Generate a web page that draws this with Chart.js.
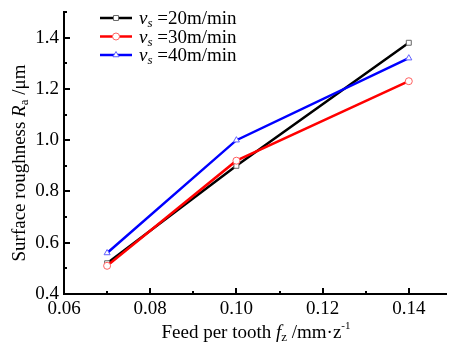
<!DOCTYPE html>
<html>
<head>
<meta charset="utf-8">
<script src="https://cdn.jsdelivr.net/npm/chart.js@4/dist/chart.umd.min.js"></script>
<style>
html,body{margin:0;padding:0;background:#fff;}
#wrap{width:451px;height:344px;}
</style>
</head>
<body>
<div id="wrap"><canvas id="c" width="451" height="344"></canvas></div>
<script>
// ---- data ----
const feed = [0.07, 0.10, 0.14];
const ra20 = [0.52, 0.90, 1.38];
const ra30 = [0.51, 0.92, 1.23];
const ra40 = [0.56, 1.00, 1.32];
const speedLabels = ['=20m/min', '=30m/min', '=40m/min'];
const xTickLabels = ['0.06', '0.08', '0.10', '0.12', '0.14'];
const xTickValues = [0.06, 0.07, 0.08, 0.09, 0.10, 0.11, 0.12, 0.13, 0.14];
const yTickLabels = ['0.4', '0.6', '0.8', '1.0', '1.2', '1.4'];

const FONT = "'Liberation Serif', 'Times New Roman', serif";
const FS = 19;
const lineColors = ['#000000', '#ff0000', '#0000ff'];
const markerColors = ['#666666', '#ff6060', '#6060ff'];
const markerStyles = ['rect', 'circle', 'triangle'];
const seriesData = [ra20, ra30, ra40];

function pts(ys){ return feed.map((x,i)=>({x:x, y:ys[i]})); }

function richWidth(ctx, segs){
  let w = 0;
  segs.forEach(s=>{ ctx.font = (s.italic?'italic ':'') + s.size + 'px ' + FONT; w += ctx.measureText(s.text).width; });
  return w;
}
function richDraw(ctx, segs, x, y){
  let cx = x;
  segs.forEach(s=>{
    ctx.font = (s.italic?'italic ':'') + s.size + 'px ' + FONT;
    ctx.fillText(s.text, cx, y + (s.dy||0));
    cx += ctx.measureText(s.text).width;
  });
}

const decorPlugin = {
  id: 'decor',
  afterDraw(chart){
    const ctx = chart.ctx;
    const xs = chart.scales.x, ys = chart.scales.y;
    const a = chart.chartArea;
    ctx.save();
    ctx.strokeStyle = '#000';
    ctx.lineWidth = 2;
    xs.ticks.forEach(t=>{
      const px = Math.round(xs.getPixelForValue(t.value));
      const major = xTickLabels.includes(t.value.toFixed(2));
      const len = major ? 6 : 3;
      ctx.beginPath(); ctx.moveTo(px, a.bottom); ctx.lineTo(px, a.bottom - len); ctx.stroke();
    });
    ys.ticks.forEach(t=>{
      const py = Math.round(ys.getPixelForValue(t.value));
      const major = yTickLabels.includes(t.value.toFixed(1));
      const len = major ? 6 : 3;
      ctx.beginPath(); ctx.moveTo(a.left, py); ctx.lineTo(a.left + len, py); ctx.stroke();
    });
    ctx.fillStyle = '#000';
    ctx.textBaseline = 'alphabetic';
    const xt = [
      {text:'Feed per tooth ', size:FS},
      {text:'f', size:FS, italic:true},
      {text:'z', size:13, dy:3},
      {text:' /mm\u00B7z', size:FS},
      {text:'-1', size:11, dy:-9}
    ];
    const xw = richWidth(ctx, xt);
    richDraw(ctx, xt, 256 - xw/2, 338);
    const yt = [
      {text:'Surface roughness ', size:FS},
      {text:'R', size:FS, italic:true},
      {text:'a', size:13, dy:3},
      {text:' /\u03BCm', size:FS}
    ];
    const yw = richWidth(ctx, yt);
    ctx.save();
    ctx.translate(25, 163);
    ctx.rotate(-Math.PI/2);
    richDraw(ctx, yt, -yw/2, 0);
    ctx.restore();
    const rows = [18, 36.5, 55];
    rows.forEach((ry, i)=>{
      ctx.strokeStyle = lineColors[i];
      ctx.lineWidth = 2.5;
      ctx.beginPath(); ctx.moveTo(100, ry); ctx.lineTo(132, ry); ctx.stroke();
      ctx.fillStyle = '#fff';
      ctx.strokeStyle = markerColors[i];
      ctx.lineWidth = 1;
      Chart.helpers.drawPoint(ctx, {pointStyle: markerStyles[i], radius: 3.5, rotation: 0, borderWidth: 1}, 116, ry);
      ctx.fillStyle = '#000';
      richDraw(ctx, [
        {text:'v', size:FS, italic:true},
        {text:'s', size:13, italic:true, dy:3},
        {text:' ' + speedLabels[i], size:FS}
      ], 139, ry + 6);
    });
    ctx.restore();
  }
};

const datasets = seriesData.map((d,i)=>({
  label: speedLabels[i],
  data: pts(d),
  borderColor: lineColors[i],
  borderWidth: 2.5,
  pointStyle: markerStyles[i],
  pointRadius: 3.5,
  pointHoverRadius: 3.5,
  pointBorderWidth: 1,
  pointBorderColor: markerColors[i],
  pointBackgroundColor: '#ffffff',
  tension: 0,
  fill: false,
  order: 3 - i
}));

const chart = new Chart(document.getElementById('c'), {
  type: 'line',
  data: { datasets },
  options: {
    responsive: false,
    animation: false,
    devicePixelRatio: 1,
    layout: { padding: { left: 0, right: 0, top: 12, bottom: 0 } },
    plugins: { legend: { display: false }, tooltip: { enabled: false } },
    scales: {
      x: {
        type: 'linear',
        min: 0.06, max: 0.15,
        afterBuildTicks(s){ s.ticks = xTickValues.map(v=>({value:v})); },
        afterFit(s){ s.height = 50; s.paddingLeft = 0; s.paddingRight = 0; },
        grid: { display: false, drawTicks: false },
        border: { display: true, color: '#000', width: 2 },
        ticks: {
          autoSkip: false, maxRotation: 0, padding: 4,
          color: '#000', font: { family: FONT, size: FS },
          callback: (v)=>{ const s = v.toFixed(2); return xTickLabels.includes(s) ? s : ''; }
        }
      },
      y: {
        min: 0.4, max: 1.5,
        afterFit(s){ s.width = 64; s.paddingTop = 0; s.paddingBottom = 0; },
        grid: { display: false, drawTicks: false },
        border: { display: true, color: '#000', width: 2 },
        ticks: {
          stepSize: 0.1, autoSkip: false, padding: 5,
          color: '#000', font: { family: FONT, size: FS },
          callback: (v)=>{ const s = v.toFixed(1); return yTickLabels.includes(s) ? s : ''; }
        }
      }
    }
  },
  plugins: [decorPlugin]
});
// if the plot area stops short of the right edge, stretch the x range so the
// 0.02 spacing matches the reference (~86 px per 0.02)
const ca = chart.chartArea;
if (ca.right < 450) {
  chart.config.options.scales.x.max = 0.06 + 0.02 * (ca.right - ca.left) / 86.2;
  chart.update();
}
</script>
</body>
</html>
